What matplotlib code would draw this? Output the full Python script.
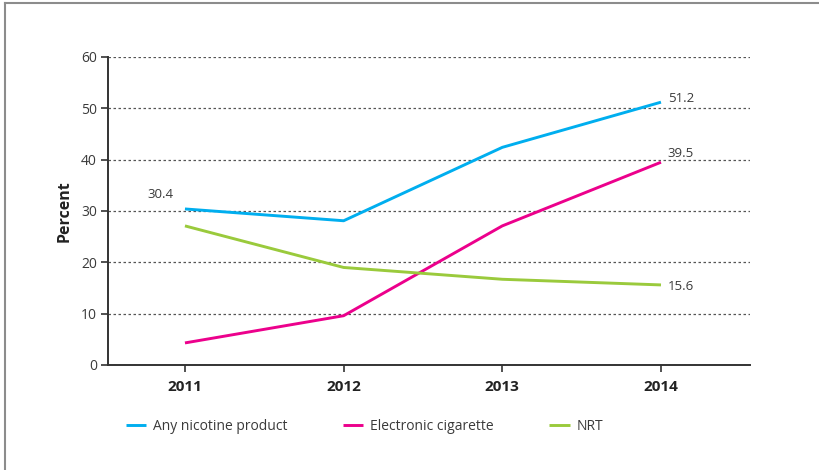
import matplotlib.pyplot as plt
from matplotlib.lines import Line2D

plt.rcParams['font.family'] = ['Open Sans', 'DejaVu Sans']

years = [2011, 2012, 2013, 2014]
any_nicotine = [30.4, 28.1, 42.4, 51.2]
e_cig = [4.3, 9.6, 27.1, 39.5]
nrt = [27.1, 19.0, 16.7, 15.6]

c_blue = '#00aeef'
c_pink = '#ec008c'
c_green = '#9aca3c'
txt = '#3a3a3a'

fig = plt.figure(figsize=(8.2, 4.7), dpi=100)
ax = fig.add_axes([108/820, 1-365/470, (750-108)/820, (365-57)/470])

ax.plot(years, any_nicotine, color=c_blue, lw=2.1, label='Any nicotine product', solid_capstyle='butt')
ax.plot(years, e_cig, color=c_pink, lw=2.1, label='Electronic cigarette', solid_capstyle='butt')
ax.plot(years, nrt, color=c_green, lw=2.1, label='NRT', solid_capstyle='butt')

ax.set_xlim(2010.515, 2014.561)
ax.set_ylim(0, 60)
ax.set_yticks(range(0, 61, 10))
ax.set_xticks(years)
ax.set_xticklabels([str(y) for y in years], fontweight='bold', fontsize=11, color='#222222')
ax.tick_params(axis='y', labelsize=10, labelcolor=txt, length=5, width=1.2, color='#333333', pad=3)
ax.tick_params(axis='x', length=5, width=1.2, color='#333333', pad=6)
ax.yaxis.grid(True, linestyle=(0, (2, 2)), color='#555555', lw=0.9)
ax.set_axisbelow(True)
for s in ['top', 'right']:
    ax.spines[s].set_visible(False)
for s in ['left', 'bottom']:
    ax.spines[s].set_color('#333333')
    ax.spines[s].set_linewidth(1.4)
ax.set_ylabel('Percent', fontweight='bold', fontsize=11.5, color='#222222', labelpad=6)

# value labels
ax.annotate(f'{any_nicotine[0]}', (years[0], any_nicotine[0]), xytext=(-27, 8),
            textcoords='offset points', fontsize=9.5, color=txt)
ax.annotate(f'{any_nicotine[-1]}', (years[-1], any_nicotine[-1]), xytext=(5, 0),
            textcoords='offset points', fontsize=9.5, color=txt)
ax.annotate(f'{e_cig[-1]}', (years[-1], e_cig[-1]), xytext=(5, 4),
            textcoords='offset points', fontsize=9.5, color=txt)
ax.annotate(f'{nrt[-1]}', (years[-1], nrt[-1]), xytext=(5, -4),
            textcoords='offset points', fontsize=9.5, color=txt)

leg = fig.legend(loc='center left', bbox_to_anchor=(126/820, 1-426/470), ncol=3, frameon=False,
                 fontsize=10, handlelength=1.45, handletextpad=0.5, columnspacing=4.0,
                 borderpad=0, borderaxespad=0)
for t in leg.get_texts():
    t.set_color(txt)

# outer frame
fig.add_artist(Line2D([5/820, 1], [1-3/470, 1-3/470], color='#8c8c8c', lw=1.5))
fig.add_artist(Line2D([5/820, 5/820], [0, 1-3/470], color='#8c8c8c', lw=1.5))

fig.savefig('out.png', dpi=100)
